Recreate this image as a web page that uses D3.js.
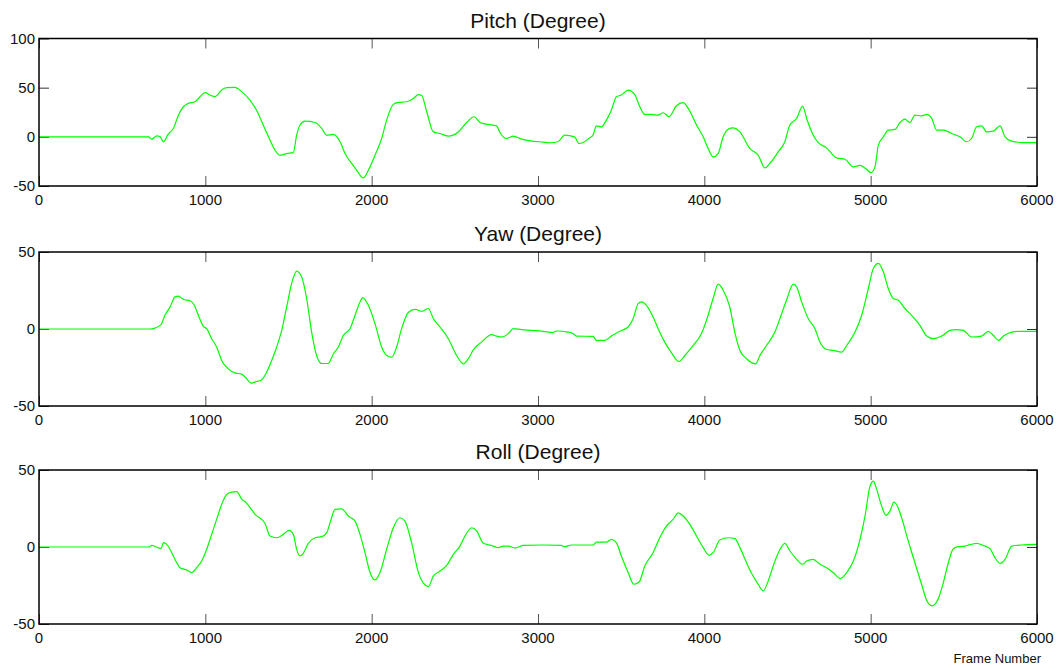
<!DOCTYPE html>
<html>
<head>
<meta charset="utf-8">
<script src="https://cdn.jsdelivr.net/npm/d3@7"></script>
<style>
  body { margin: 0; background: #fff; }
  svg { display: block; font-family: "Liberation Sans", Arial, sans-serif; }
</style>
</head>
<body>
<svg id="svg"></svg>
<script>
const width = 1064;
const height = 669;

// [frame, degree]
const pitchData = [
  [0,0],[660,0],[678,-2.4],[708,1],[728,0],[748,-5],[778,3],[808,8.5],[838,22],[868,30.6],[898,34],
  [938,35.7],[968,40.8],[998,45],[1028,42.5],[1058,40.8],[1098,47.6],[1128,50],[1178,50.3],[1218,46],
  [1268,37.4],[1308,27],[1348,12],[1389,-3.4],[1419,-13.6],[1449,-18.7],[1489,-17],[1529,-16],[1549,1.7],
  [1569,12],[1599,16],[1660,14.6],[1700,8.5],[1730,1.7],[1770,2.4],[1810,-5],[1840,-17],[1880,-27],
  [1910,-34],[1950,-41.8],[1980,-34],[2020,-18.7],[2060,-1.7],[2090,17],[2130,33],[2160,35],[2210,35.7],
  [2251,39],[2281,43],[2301,42],[2331,25.5],[2371,5],[2411,3.4],[2461,0.7],[2521,5],[2571,14.6],
  [2617,20.4],[2651,14.6],[2701,12.6],[2751,11.2],[2771,4.4],[2811,-1.7],[2852,0.7],[2902,-2.4],
  [2962,-4.4],[3010,-5],[3070,-6],[3120,-5],[3160,1.7],[3220,0],[3247,-6.8],[3271,-5.8],[3311,-1],
  [3331,1.7],[3351,11.2],[3381,10.2],[3411,17],[3441,27],[3471,40.8],[3501,42.5],[3542,47.6],[3582,43],
  [3612,30.6],[3642,22.8],[3682,22.8],[3722,22],[3752,24.5],[3788,20.4],[3832,31.6],[3873,34.7],
  [3903,29],[3953,12],[3993,0],[4023,-12],[4053,-20.4],[4083,-17],[4113,0],[4143,7.8],[4173,9.2],
  [4214,5],[4274,-12],[4324,-18.7],[4364,-31.6],[4394,-27],[4444,-15.3],[4484,-5],[4514,12],
  [4555,18.7],[4591,31.3],[4615,18.7],[4655,1.7],[4685,-5.8],[4735,-11.2],[4795,-21.4],[4846,-22.8],
  [4896,-30.6],[4936,-29],[4966,-31.6],[5002,-36.4],[5026,-30.6],[5046,-8.5],[5076,0],[5106,6.8],
  [5146,7.5],[5176,14.6],[5206,18],[5236,14.6],[5266,22],[5306,21.4],[5337,22.8],[5367,18.7],
  [5397,6.8],[5437,6.8],[5487,3.4],[5537,0],[5577,-5],[5607,-1.7],[5637,10.2],[5667,11.2],[5697,5],
  [5737,5.8],[5778,11.2],[5808,0],[5848,-4.4],[5918,-5.8],[6000,-5.8]
];

const yawData = [
  [0,0],[667,0],[697,0.6],[733,2.8],[757,8.9],[788,14.3],[818,20.9],[838,21.3],[868,19.3],[908,18.3],
  [934,15.4],[958,8.9],[988,1.7],[1008,0.2],[1038,-6.3],[1068,-11.7],[1098,-20.4],[1138,-25.9],
  [1178,-28.5],[1218,-29.3],[1249,-32.4],[1275,-35.2],[1309,-34.1],[1339,-33],[1369,-28],[1399,-20.4],
  [1429,-11.7],[1459,-0.9],[1489,14.3],[1519,29.6],[1549,37.6],[1579,33.9],[1609,19.8],[1639,-2],
  [1669,-17.2],[1699,-22.4],[1739,-22.4],[1770,-16.1],[1800,-11.7],[1830,-4.1],[1870,0.2],[1900,8.9],
  [1930,17.6],[1946,20.4],[1980,15.4],[2020,3.5],[2060,-11.7],[2090,-17.2],[2120,-18.3],[2150,-11.7],
  [2180,0.2],[2220,10.7],[2260,12.8],[2301,11.5],[2341,13.3],[2371,6.7],[2411,1.3],[2461,-6.3],
  [2511,-17.2],[2551,-22.6],[2581,-19.3],[2611,-13.5],[2661,-8.5],[2721,-3.7],[2751,-4.6],[2781,-5.2],
  [2822,-3],[2852,0.2],[2902,-0.4],[2962,-0.9],[3030,-1.5],[3090,-2.4],[3110,-1.3],[3180,-2],
  [3211,-3],[3231,-4.6],[3331,-4.8],[3351,-7.4],[3401,-7.4],[3441,-4.6],[3491,-1.5],[3542,1.3],
  [3572,6.7],[3602,16.5],[3622,17.6],[3652,15.4],[3692,7.8],[3722,0.2],[3762,-8.5],[3802,-15.4],
  [3847,-21.1],[3883,-17.2],[3933,-10.7],[3983,-3],[4013,5.7],[4053,19.8],[4083,29.1],[4113,25.2],
  [4153,14.3],[4183,-2],[4214,-13.9],[4254,-19.3],[4309,-22.6],[4334,-17.2],[4374,-10.7],[4424,-2],
  [4454,6.7],[4494,18.7],[4535,29.1],[4555,27.4],[4585,17.6],[4625,6.7],[4665,0.2],[4695,-8.5],
  [4735,-13.3],[4775,-13.9],[4826,-15],[4856,-10.7],[4906,-2],[4946,8.9],[4986,26.3],[5016,39.3],
  [5046,42.6],[5076,37.2],[5106,26.3],[5136,19.8],[5166,18.7],[5206,13.3],[5246,8.9],[5296,2.4],
  [5337,-4.6],[5377,-6.3],[5427,-4.6],[5477,-0.9],[5517,-0.4],[5557,-0.9],[5607,-5.2],[5667,-4.6],
  [5707,-1.5],[5737,-4.1],[5768,-7.4],[5798,-4.6],[5848,-2],[5898,-1.5],[6000,-1.5]
];

const rollData = [
  [0,0],[660,0],[678,1],[734,-1],[748,2.8],[768,1.7],[798,-3.7],[828,-10.2],[848,-13.4],[888,-14.9],
  [918,-16.6],[948,-13.4],[978,-9.1],[1008,-1.5],[1038,8.2],[1068,17.9],[1098,27.6],[1128,34.1],
  [1158,35.6],[1188,35.9],[1218,31.3],[1249,28.3],[1299,21.2],[1359,15.3],[1389,7.1],[1429,6],
  [1469,8.2],[1503,10.8],[1529,8.2],[1549,-1.5],[1569,-5.8],[1589,-4.1],[1619,2.4],[1660,6],[1700,6.7],
  [1730,9.3],[1750,15.8],[1780,24.4],[1820,24.8],[1860,20.1],[1900,16.8],[1930,8.2],[1960,-3.7],
  [1990,-16.6],[2020,-21.4],[2050,-16.6],[2090,-1.5],[2130,12.5],[2170,19],[2200,16.8],[2240,2.8],
  [2281,-16.6],[2311,-23.5],[2341,-25.7],[2371,-18.8],[2411,-15.6],[2451,-11.9],[2491,-4.8],
  [2531,0.6],[2561,7.1],[2601,12.5],[2631,10.4],[2671,2.4],[2721,1],[2761,-0.4],[2791,0.6],[2822,0.6],
  [2862,-0.6],[2912,1],[3032,1.3],[3140,1],[3160,0.2],[3201,1.3],[3331,1.3],[3351,3.2],[3411,3.2],
  [3441,5],[3471,2.8],[3501,-5.8],[3542,-16.6],[3576,-24.2],[3608,-22.7],[3642,-12.3],[3692,-3.7],
  [3732,6],[3772,13.6],[3812,17.9],[3843,22.2],[3873,20.1],[3913,14.7],[3953,7.1],[3993,-0.4],
  [4029,-5.4],[4053,-3.7],[4093,4.5],[4143,6],[4184,5.4],[4214,-0.4],[4254,-10.2],[4284,-17.1],
  [4324,-24.2],[4354,-28.5],[4384,-22],[4414,-12.3],[4450,-2.6],[4484,2.4],[4515,-2.6],[4555,-8],
  [4591,-11.2],[4615,-9.1],[4655,-8],[4695,-11.2],[4735,-13.4],[4775,-16.6],[4819,-20.5],[4856,-16.6],
  [4896,-9.1],[4936,5],[4966,20.1],[4996,39.5],[5016,42.8],[5036,37.4],[5066,26.6],[5092,20.5],
  [5116,23.3],[5140,29.2],[5156,27.6],[5186,19],[5226,3.9],[5266,-10.2],[5306,-24.2],[5341,-35.6],
  [5371,-38.2],[5407,-33.5],[5437,-23.1],[5467,-10.2],[5497,-1.1],[5527,0.2],[5567,0.6],[5597,1.5],
  [5637,2.4],[5677,1],[5717,-1.1],[5747,-6.9],[5778,-10.6],[5808,-8],[5848,0.6],[5908,1.3],[6000,1.7]
];

const xTicks = [0, 1000, 2000, 3000, 4000, 5000, 6000];
const pitchTicks = [-50, 0, 50, 100];
const rollYawTicks = [-50, 0, 50];
const titles = ["Pitch (Degree)", "Yaw (Degree)", "Roll (Degree)"];
const xLabel = "Frame Number";

let svg = d3.select("#svg").attr("width", width).attr("height", height);

const left = 39, right = 1037;
let xScale = d3.scaleLinear().domain([0, 6000]).range([left, right]);

function drawPanel(data, top, bottom, yDomain, yTicks, title) {
    let yScale = d3.scaleLinear().domain(yDomain).range([bottom, top]);
    let g = svg.append("g");

    // title
    g.append("text")
        .attr("x", (left + right) / 2)
        .attr("y", top - 11)
        .attr("text-anchor", "middle")
        .attr("font-size", "21px")
        .attr("fill", "#111")
        .text(title);

    // inward ticks on all four sides
    let tickLen = 10;
    g.append("g").attr("transform", `translate(0,${bottom})`)
        .call(d3.axisTop(xScale).tickValues(xTicks).tickSize(tickLen).tickFormat(""))
        .call(a => a.select(".domain").remove())
        .selectAll("line").attr("stroke", "#555");
    g.append("g").attr("transform", `translate(0,${top})`)
        .call(d3.axisBottom(xScale).tickValues(xTicks).tickSize(tickLen).tickFormat(""))
        .call(a => a.select(".domain").remove())
        .selectAll("line").attr("stroke", "#555");
    g.append("g").attr("transform", `translate(${left},0)`)
        .call(d3.axisRight(yScale).tickValues(yTicks).tickSize(tickLen).tickFormat(""))
        .call(a => a.select(".domain").remove())
        .selectAll("line").attr("stroke", "#333");
    g.append("g").attr("transform", `translate(${right},0)`)
        .call(d3.axisLeft(yScale).tickValues(yTicks).tickSize(tickLen).tickFormat(""))
        .call(a => a.select(".domain").remove())
        .selectAll("line").attr("stroke", "#333");

    // tick labels
    g.selectAll(".xl").data(xTicks).join("text")
        .attr("x", d => xScale(d))
        .attr("y", bottom + 19)
        .attr("text-anchor", "middle")
        .attr("font-size", "15px")
        .attr("fill", "#111")
        .text(d => d);
    g.selectAll(".yl").data(yTicks).join("text")
        .attr("x", left - 4)
        .attr("y", d => yScale(d) + 5)
        .attr("text-anchor", "end")
        .attr("font-size", "15px")
        .attr("fill", "#111")
        .text(d => d);

    // the signal
    let line = d3.line()
        .x(d => xScale(d[0]))
        .y(d => yScale(d[1]))
        .curve(d3.curveMonotoneX);
    g.append("path")
        .datum(data)
        .attr("d", line)
        .attr("fill", "none")
        .attr("stroke", "#00ff00")
        .attr("stroke-width", 1.2);

    // box
    g.append("rect")
        .attr("x", left).attr("y", top)
        .attr("width", right - left).attr("height", bottom - top)
        .attr("fill", "none")
        .attr("stroke", "#000")
        .attr("stroke-width", 1.5);
}

drawPanel(pitchData, 38.5, 186, [-50, 100], pitchTicks, titles[0]);
drawPanel(yawData, 252, 406, [-50, 50], rollYawTicks, titles[1]);
drawPanel(rollData, 470, 624, [-50, 50], rollYawTicks, titles[2]);

svg.append("text")
    .attr("x", 1041)
    .attr("y", 663)
    .attr("text-anchor", "end")
    .attr("font-size", "13px")
    .attr("fill", "#111")
    .text(xLabel);
</script>
</body>
</html>
